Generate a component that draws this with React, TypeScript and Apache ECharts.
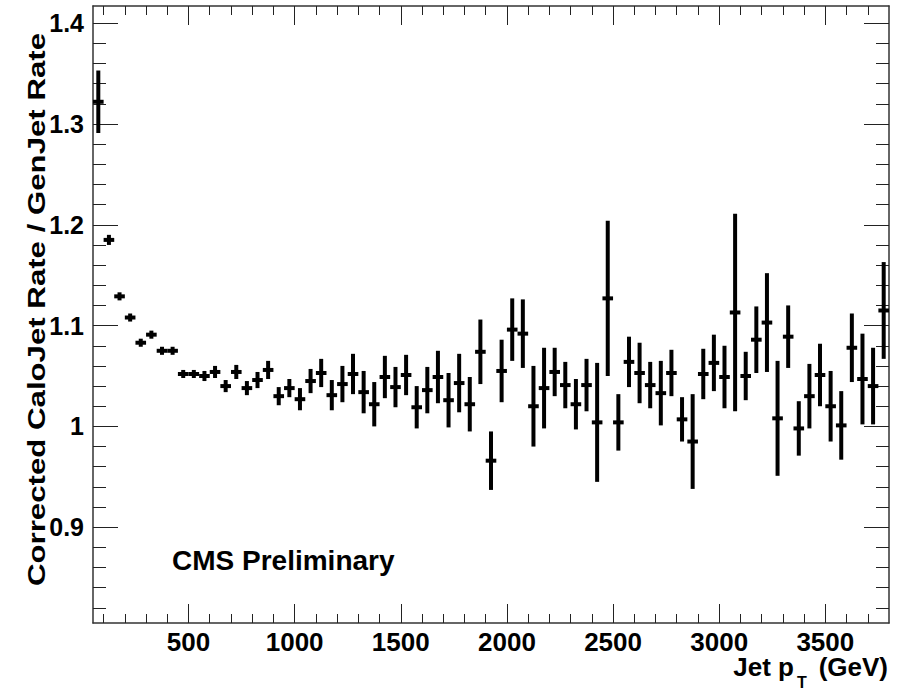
import React, { useEffect, useRef } from "react";
import * as echarts from "echarts";

// Jet pT bin centres (GeV)
const ptCenters = [
  75, 125, 175, 225, 275, 325, 375, 425, 475, 525, 575, 625, 675, 725, 775,
  825, 875, 925, 975, 1025, 1075, 1125, 1175, 1225, 1275, 1325, 1375, 1425,
  1475, 1525, 1575, 1625, 1675, 1725, 1775, 1825, 1875, 1925, 1975, 2025,
  2075, 2125, 2175, 2225, 2275, 2325, 2375, 2425, 2475, 2525, 2575, 2625,
  2675, 2725, 2775, 2825, 2875, 2925, 2975, 3025, 3075, 3125, 3175, 3225,
  3275, 3325, 3375, 3425, 3475, 3525, 3575, 3625, 3675, 3725, 3775,
];

// Corrected CaloJet rate / GenJet rate
const ratio = [
  1.322, 1.185, 1.129, 1.108, 1.083, 1.091, 1.075, 1.075, 1.052, 1.052, 1.05,
  1.054, 1.04, 1.054, 1.038, 1.046, 1.056, 1.03, 1.038, 1.027, 1.045, 1.053,
  1.031, 1.042, 1.052, 1.034, 1.022, 1.049, 1.039, 1.051, 1.019, 1.036, 1.049,
  1.026, 1.043, 1.022, 1.074, 0.966, 1.055, 1.096, 1.092, 1.02, 1.038, 1.054,
  1.041, 1.022, 1.041, 1.004, 1.127, 1.004, 1.064, 1.053, 1.041, 1.033, 1.053,
  1.007, 0.985, 1.052, 1.063, 1.049, 1.113, 1.05, 1.086, 1.103, 1.008, 1.089,
  0.998, 1.03, 1.051, 1.02, 1.001, 1.078, 1.047, 1.04, 1.115,
];

// symmetric statistical errors
const ratioErr = [
  0.031, 0.005, 0.004, 0.004, 0.004, 0.004, 0.004, 0.004, 0.004, 0.004, 0.005,
  0.006, 0.006, 0.007, 0.007, 0.008, 0.009, 0.009, 0.009, 0.011, 0.012, 0.014,
  0.015, 0.018, 0.02, 0.021, 0.022, 0.021, 0.02, 0.02, 0.021, 0.023, 0.026,
  0.027, 0.029, 0.027, 0.032, 0.029, 0.031, 0.031, 0.034, 0.04, 0.04, 0.024,
  0.023, 0.025, 0.026, 0.059, 0.077, 0.028, 0.025, 0.03, 0.023, 0.032, 0.023,
  0.022, 0.047, 0.025, 0.028, 0.031, 0.098, 0.024, 0.033, 0.049, 0.057, 0.031,
  0.027, 0.032, 0.031, 0.035, 0.034, 0.034, 0.045, 0.038, 0.048,
];

const binHalfWidth = 25;

const xMajorTicks = [500, 1000, 1500, 2000, 2500, 3000, 3500];
const xMinorTicks = [
  100, 200, 300, 400, 600, 700, 800, 900, 1100, 1200, 1300, 1400, 1600, 1700,
  1800, 1900, 2100, 2200, 2300, 2400, 2600, 2700, 2800, 2900, 3100, 3200,
  3300, 3400, 3600, 3700,
];
const yMajorTicks = [0.9, 1.0, 1.1, 1.2, 1.3, 1.4];
const yMinorTicks = [
  0.82, 0.84, 0.86, 0.88, 0.92, 0.94, 0.96, 0.98, 1.02, 1.04, 1.06, 1.08,
  1.12, 1.14, 1.16, 1.18, 1.22, 1.24, 1.26, 1.28, 1.32, 1.34, 1.36, 1.38,
];

const X_MIN = 50;
const X_MAX = 3800;
const Y_MIN = 0.805;
const Y_MAX = 1.417;
const FONT = "'Liberation Sans', Arial, Helvetica, sans-serif";

function makeAxis(
  dim: "x" | "y",
  position: string,
  ticks: number[],
  tickLen: number,
  showLine: boolean,
  showLabels: boolean
) {
  const isX = dim === "x";
  return {
    type: "value",
    position,
    min: isX ? X_MIN : Y_MIN,
    max: isX ? X_MAX : Y_MAX,
    splitLine: { show: false },
    axisLine: {
      show: showLine,
      onZero: false,
      lineStyle: { color: "#333", width: 1.5 },
    },
    axisTick: {
      show: true,
      inside: true,
      length: tickLen,
      customValues: ticks,
      lineStyle: { color: "#222", width: 1 },
    },
    axisLabel: showLabels
      ? {
          show: true,
          customValues: ticks,
          margin: isX ? 6 : 9,
          color: "#000",
          fontFamily: FONT,
          fontWeight: "bold",
          fontSize: isX ? 26 : 25,
          formatter: (v: number) => String(Math.round(v * 10) / 10),
        }
      : { show: false },
  };
}

export default function App() {
  const ref = useRef<HTMLDivElement>(null);

  useEffect(() => {
    if (!ref.current) return;
    const chart = echarts.init(ref.current, null, { renderer: "svg" });
    const data = ptCenters.map((x, i) => [x, ratio[i], ratioErr[i]]);

    chart.setOption({
      animation: false,
      backgroundColor: "#fff",
      grid: { left: 93, top: 6, width: 796, height: 617, containLabel: false },
      xAxis: [
        makeAxis("x", "bottom", xMajorTicks, 19, true, true),
        makeAxis("x", "bottom", xMinorTicks, 9, false, false),
        makeAxis("x", "top", xMajorTicks, 19, true, false),
        makeAxis("x", "top", xMinorTicks, 9, false, false),
      ],
      yAxis: [
        makeAxis("y", "left", yMajorTicks, 25, true, true),
        makeAxis("y", "left", yMinorTicks, 13, false, false),
        makeAxis("y", "right", yMajorTicks, 25, true, false),
        makeAxis("y", "right", yMinorTicks, 13, false, false),
      ],
      series: [
        {
          type: "custom",
          xAxisIndex: 0,
          yAxisIndex: 0,
          clip: true,
          data,
          renderItem: (params: any, api: any) => {
            const x = api.value(0);
            const y = api.value(1);
            const e = api.value(2);
            const c = api.coord([x, y]);
            const top = api.coord([x, y + e]);
            const bot = api.coord([x, y - e]);
            const l = api.coord([x - binHalfWidth, y]);
            const r = api.coord([x + binHalfWidth, y]);
            return {
              type: "group",
              children: [
                {
                  type: "line",
                  shape: { x1: c[0], y1: top[1], x2: c[0], y2: bot[1] },
                  style: { stroke: "#000", lineWidth: 4 },
                },
                {
                  type: "line",
                  shape: { x1: l[0], y1: c[1], x2: r[0], y2: c[1] },
                  style: { stroke: "#000", lineWidth: 4 },
                },
              ],
            };
          },
        },
      ],
      graphic: [
        {
          type: "text",
          x: 37,
          y: 33,
          rotation: Math.PI / 2,
          scaleX: 1.3,
          style: {
            text: "Corrected CaloJet Rate / GenJet Rate",
            font: `bold 24px ${FONT}`,
            fill: "#000",
            align: "right",
            verticalAlign: "middle",
          },
        },
        {
          type: "text",
          x: 172,
          y: 560,
          style: {
            text: "CMS Preliminary",
            font: `bold 28px ${FONT}`,
            fill: "#000",
            align: "left",
            verticalAlign: "middle",
          },
        },
        {
          type: "text",
          x: 794,
          y: 667,
          style: {
            text: "Jet p",
            font: `bold 26px ${FONT}`,
            fill: "#000",
            align: "right",
            verticalAlign: "middle",
          },
        },
        {
          type: "text",
          x: 797,
          y: 682,
          style: {
            text: "T",
            font: `bold 16px ${FONT}`,
            fill: "#000",
            align: "left",
            verticalAlign: "middle",
          },
        },
        {
          type: "text",
          x: 888,
          y: 667,
          style: {
            text: "(GeV)",
            font: `bold 26px ${FONT}`,
            fill: "#000",
            align: "right",
            verticalAlign: "middle",
          },
        },
      ],
    });

    return () => chart.dispose();
  }, []);

  return (
    <div
      ref={ref}
      style={{ position: "absolute", left: 0, top: 0, width: 906, height: 691 }}
    />
  );
}
